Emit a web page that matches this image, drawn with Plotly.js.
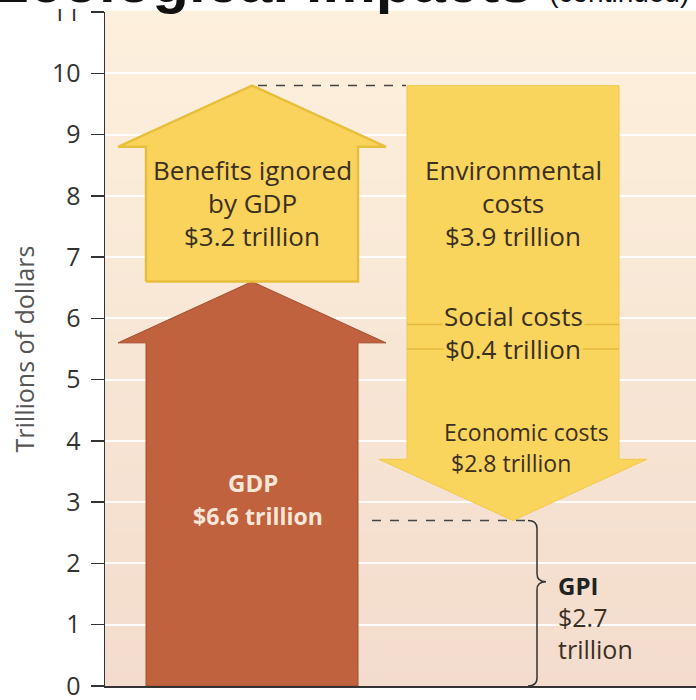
<!DOCTYPE html>
<html>
<head>
<meta charset="utf-8">
<script src="https://cdn.plot.ly/plotly-3.0.1.min.js"></script>
<style>html,body{margin:0;padding:0;background:#ffffff;}</style>
</head>
<body>
<div id="chart" style="width:696px;height:700px;"></div>
<script>
// ---------------- data (trillions of dollars) ----------------
const gdpLabel = 'GDP';
const gdpValue = 6.6;
const benefitsLines = ['Benefits ignored', 'by GDP'];
const benefitsValue = 3.2;
const costLabels = [['Environmental', 'costs'], ['Social costs'], ['Economic costs']];
const costValues = [3.9, 0.4, 2.8];
const gpiLabel = 'GPI';
const gpiValue = 2.7;
const yTickVals = [0, 1, 2, 3, 4, 5, 6, 7, 8, 9, 10, 11];
const yTickText = ['0', '1', '2', '3', '4', '5', '6', '7', '8', '9', '10', '11'];
const yAxisTitle = 'Trillions of dollars';
const pageTitle = 'Ecological impacts';
const pageTitleNote = '(continued)';

// ---------------- layout constants ----------------
const FONT = '"Open Sans", "Noto Sans", sans-serif';
const TXT = '#3b2f22';
const UP_X = 147;      // centre of the upward column (x axis units = px from plot left)
const DOWN_X = 408;    // centre of the downward column
const SHAFT = 106;     // half width of arrow shafts
const HEAD = 134;      // half width of arrow heads
const HEAD_H = 1.0;    // arrow head height (y units)

const money = v => '$' + v.toFixed(1) + ' trillion';

function upArrow(c, base, top) {
  const hb = top - HEAD_H;
  return {x: [c - SHAFT, c - SHAFT, c - HEAD, c, c + HEAD, c + SHAFT, c + SHAFT, c - SHAFT],
          y: [base, hb, hb, top, hb, hb, base, base]};
}
function downArrow(c, top, tip) {
  const hb = tip + HEAD_H;
  return {x: [c - SHAFT, c + SHAFT, c + SHAFT, c + HEAD, c, c - HEAD, c - SHAFT, c - SHAFT],
          y: [top, top, hb, hb, tip, hb, hb, top]};
}

const topLevel = gdpValue + benefitsValue;
const costLevels = [topLevel];
costValues.forEach(v => costLevels.push(costLevels[costLevels.length - 1] - v));
const costTip = costLevels[costLevels.length - 1];

const gdpA = upArrow(UP_X, 0, gdpValue);
const benA = upArrow(UP_X, gdpValue, topLevel);
const costA = downArrow(DOWN_X, topLevel, costTip);

const traces = [
  {type: 'scatter', mode: 'lines', x: gdpA.x, y: gdpA.y, fill: 'toself',
   fillcolor: '#c0623e', line: {color: '#a44e2f', width: 1}, hoverinfo: 'skip'},
  {type: 'scatter', mode: 'lines', x: benA.x, y: benA.y, fill: 'toself',
   fillcolor: '#f9d35b', line: {color: '#e8bf3d', width: 2.5}, hoverinfo: 'skip'},
  {type: 'scatter', mode: 'lines', x: costA.x, y: costA.y, fill: 'toself',
   fillcolor: '#fad55d', line: {color: '#f1c84f', width: 1}, hoverinfo: 'skip'},
  // separators of the social costs segment
  {type: 'scatter', mode: 'lines',
   x: [DOWN_X - SHAFT, DOWN_X + SHAFT, null, DOWN_X - SHAFT, DOWN_X + SHAFT],
   y: [costLevels[1], costLevels[1], null, costLevels[2], costLevels[2]],
   line: {color: '#e4b940', width: 1.5}, hoverinfo: 'skip'},
  // dashed guide lines
  {type: 'scatter', mode: 'lines', x: [UP_X + 6, DOWN_X - SHAFT - 1], y: [topLevel, topLevel],
   line: {color: '#444', width: 1.5, dash: 'dash'}, hoverinfo: 'skip'},
  {type: 'scatter', mode: 'lines', x: [UP_X + SHAFT + 14, DOWN_X + 15], y: [gpiValue, gpiValue],
   line: {color: '#444', width: 1.5, dash: 'dash'}, hoverinfo: 'skip'}
];

// ---------------- background gradient (style) ----------------
const shapes = [];
const BANDS = 44;
const cTop = [253, 240, 221], cBot = [243, 220, 205];
for (let i = 0; i < BANDS; i++) {
  const t = (i + 0.5) / BANDS;
  const c = cTop.map((v, k) => Math.round(v + (cBot[k] - v) * t));
  shapes.push({type: 'rect', layer: 'below', xref: 'paper', yref: 'paper',
    x0: 0, x1: 1, y0: 1 - (i + 1) / BANDS, y1: 1 - i / BANDS + 0.002,
    fillcolor: 'rgb(' + c.join(',') + ')', line: {width: 0}});
}
// GPI brace
const bx = DOWN_X + 24, bl = DOWN_X + 15, bp = DOWN_X + 33;
const mid = gpiValue * 0.63, r = 0.13;
shapes.push({type: 'path', xref: 'x', yref: 'y', layer: 'above',
  path: `M ${bl},${gpiValue} Q ${bx},${gpiValue} ${bx},${gpiValue - r} L ${bx},${mid + r} Q ${bx},${mid} ${bp},${mid} Q ${bx},${mid} ${bx},${mid - r} L ${bx},${r} Q ${bx},0 ${bl},0`,
  line: {color: '#333', width: 1.5}});
// cover behind the cropped title
shapes.push({type: 'rect', layer: 'above', xref: 'paper', yref: 'paper',
  x0: -0.2, x1: 0, y0: 1.0045, y1: 1.03, fillcolor: '#ffffff', line: {width: 0}});

// ---------------- labels ----------------
const pxToY = px => (686 - px) / 61.27;
const ann = [];
function label(text, x, ypx, opts) {
  ann.push(Object.assign({text: text, x: x, y: pxToY(ypx), xref: 'x', yref: 'y',
    showarrow: false, xanchor: 'center', yanchor: 'middle',
    font: {family: FONT, size: 26, color: TXT}}, opts || {}));
}
label(benefitsLines[0], UP_X, 170);
label(benefitsLines[1], UP_X, 203);
label(money(benefitsValue), UP_X, 236);
label(costLabels[0][0], DOWN_X, 170);
label(costLabels[0][1], DOWN_X, 203);
label(money(costValues[0]), DOWN_X, 236);
label(costLabels[1][0], DOWN_X, 316, {bgcolor: '#fad55d', borderpad: 1});
label(money(costValues[1]), DOWN_X, 349, {bgcolor: '#fad55d', borderpad: 1});
label(costLabels[2][0], DOWN_X + 13, 432, {font: {family: FONT, size: 23, color: TXT}, borderpad: 0});
label(money(costValues[2]), DOWN_X - 2, 463, {font: {family: FONT, size: 23, color: TXT}, borderpad: 0});
label('<b>' + gdpLabel + '</b>', UP_X + 1, 483, {font: {family: FONT, size: 24, color: '#f8e6d8'}});
label('<b>' + money(gdpValue) + '</b>', UP_X + 6, 516, {font: {family: FONT, size: 23, color: '#f8e6d8'}});
label('<b>' + gpiLabel + '</b>', 451, 585, {xanchor: 'left', font: {family: FONT, size: 24, color: '#222'}});
label('$' + gpiValue.toFixed(1), 451, 617, {xanchor: 'left', font: {family: FONT, size: 25, color: TXT}});
label('trillion', 451, 649, {xanchor: 'left', font: {family: FONT, size: 25, color: TXT}});
// cropped page title
ann.push({text: '<b>' + pageTitle + '</b> <span style="font-size:28px">' + pageTitleNote + '</span>',
  xref: 'paper', yref: 'paper', x: -0.2, y: 0.992, xanchor: 'left', yanchor: 'bottom',
  showarrow: false, font: {family: '"Liberation Sans", Arial, sans-serif', size: 60, color: '#111'}});

const layout = {
  width: 696, height: 700,
  margin: {l: 105, r: 0, t: 12, b: 14},
  paper_bgcolor: '#ffffff', plot_bgcolor: '#f8e8d6',
  showlegend: false,
  xaxis: {range: [0, 591], showline: true, linecolor: '#333', linewidth: 1.5,
    showticklabels: false, ticks: '', showgrid: false, zeroline: false, fixedrange: true},
  yaxis: {range: [0, 11], tickvals: yTickVals, ticktext: yTickText,
    ticks: 'outside', ticklen: 13, tickwidth: 1.5, tickcolor: '#333',
    ticklabelstandoff: 5, ticklabeloverflow: 'allow',
    showline: true, linecolor: '#333', linewidth: 1.5,
    showgrid: true, gridcolor: 'rgba(255,255,255,0.9)', gridwidth: 2, zeroline: false,
    tickfont: {family: FONT, size: 25, color: '#333'},
    title: {text: yAxisTitle, font: {family: FONT, size: 25, color: '#555'}, standoff: 10},
    fixedrange: true},
  shapes: shapes,
  annotations: ann
};

Plotly.newPlot('chart', traces, layout, {displayModeBar: false, staticPlot: true});
</script>
</body>
</html>
